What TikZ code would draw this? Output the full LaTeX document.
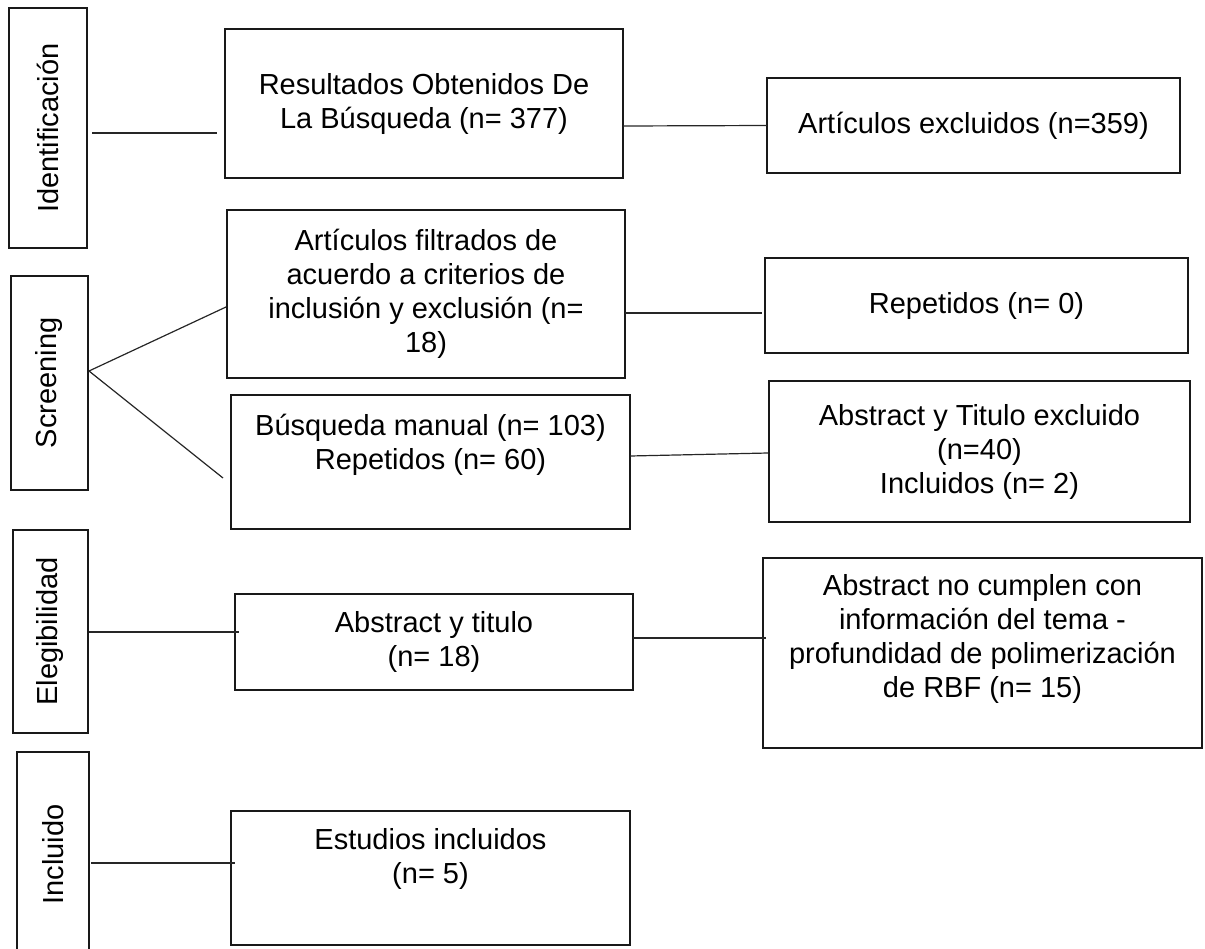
\documentclass[tikz,border=0pt]{standalone}
\usepackage{fontspec}
\setmainfont{Liberation Sans}
\usetikzlibrary{calc}
\begin{document}
\begin{tikzpicture}[x=0.5pt,y=-0.5pt,
  bx/.style={draw=black!90, line width=1.35pt, rectangle, inner sep=0pt, outer sep=0pt,
    align=center, anchor=north west, font=\fontsize{14.5pt}{17pt}\selectfont},
  txt/.style={align=center, inner sep=0pt, font=\fontsize{14.5pt}{17pt}\selectfont},
  conn/.style={draw=black!85, line width=0.6pt}]
\useasboundingbox (0,0) rectangle (1205,948);

% stage boxes
\node[bx, minimum width=39pt, minimum height=120pt] (ident) at (9,8) {};
\node[bx, minimum width=38.5pt, minimum height=107pt] (scr) at (11,276) {};
\node[bx, minimum width=37.5pt, minimum height=101.5pt] (eleg) at (13,530) {};
\node[bx, minimum width=36pt, minimum height=102.5pt] (incl) at (17,752) {};
\node[txt, rotate=90] at (ident.center) {Identificación};
\node[txt, rotate=90] at (scr.center) {Screening};
\node[txt, rotate=90] at (eleg.center) {Elegibilidad};
\node[txt, rotate=90] at (incl.center) {Incluido};

% middle column
\node[bx, minimum width=199pt, minimum height=74.5pt] (res) at (225,29)
  {Resultados Obtenidos De\\La Búsqueda (n= 377)};
\node[bx, minimum width=199pt, minimum height=84pt] (filt) at (227,210)
  {Artículos filtrados de\\acuerdo a criterios de\\inclusión y exclusión (n=\\18)};
\node[bx, minimum width=199.5pt, minimum height=67pt] (bus) at (231,395) {};
\node[txt] at ($(bus.north)+(0,50)$) {Búsqueda manual (n= 103)\\Repetidos (n= 60)};
\node[bx, minimum width=199pt, minimum height=48pt] (abst) at (235,594)
  {Abstract y titulo\\(n= 18)};
\node[bx, minimum width=199.5pt, minimum height=67pt] (est) at (231,811) {};
\node[txt] at ($(est.north)+(0,48)$) {Estudios incluidos\\(n= 5)};

% right column
\node[bx, minimum width=206.5pt, minimum height=47.5pt] (artex) at (767,78)
  {Artículos excluidos (n=359)};
\node[bx, minimum width=211.5pt, minimum height=47.5pt] (rep) at (765,258)
  {Repetidos (n= 0)};
\node[bx, minimum width=210.5pt, minimum height=70.5pt] (abstex) at (769,381)
  {Abstract y Titulo excluido\\(n=40)\\Incluidos (n= 2)};
\node[bx, minimum width=219.5pt, minimum height=95pt] (absno) at (763,558) {};
\node[txt] at ($(absno.north)+(0,81)$)
  {Abstract no cumplen con\\información del tema -\\profundidad de polimerización\\de RBF (n= 15)};

% connectors
\draw[conn] ($(ident.east)+(5,5)$) -- ($(res.west)+(-8,29.5)$);
\draw[conn] ($(res.east)+(0,22.5)$) -- (artex.west);
\draw[conn] ($(scr.east)+(1,-12)$) -- ($(filt.west)+(-1,13)$);
\draw[conn] ($(scr.east)+(1,-12)$) -- ($(bus.west)+(-8,16)$);
\draw[conn] ($(filt.east)+(0,19)$) -- ($(rep.west)+(-3,7.5)$);
\draw[conn] ($(bus.east)+(0,-6)$) -- ($(abstex.west)+(-1,1.5)$);
\draw[conn] ($(eleg.east)+(1,0.5)$) -- ($(abst.west)+(4,-10)$);
\draw[conn] ($(abst.east)+(0,-4)$) -- ($(absno.west)+(3,-15)$);
\draw[conn] ($(incl.east)+(2,8.5)$) -- ($(est.west)+(4,-15)$);
\end{tikzpicture}
\end{document}
